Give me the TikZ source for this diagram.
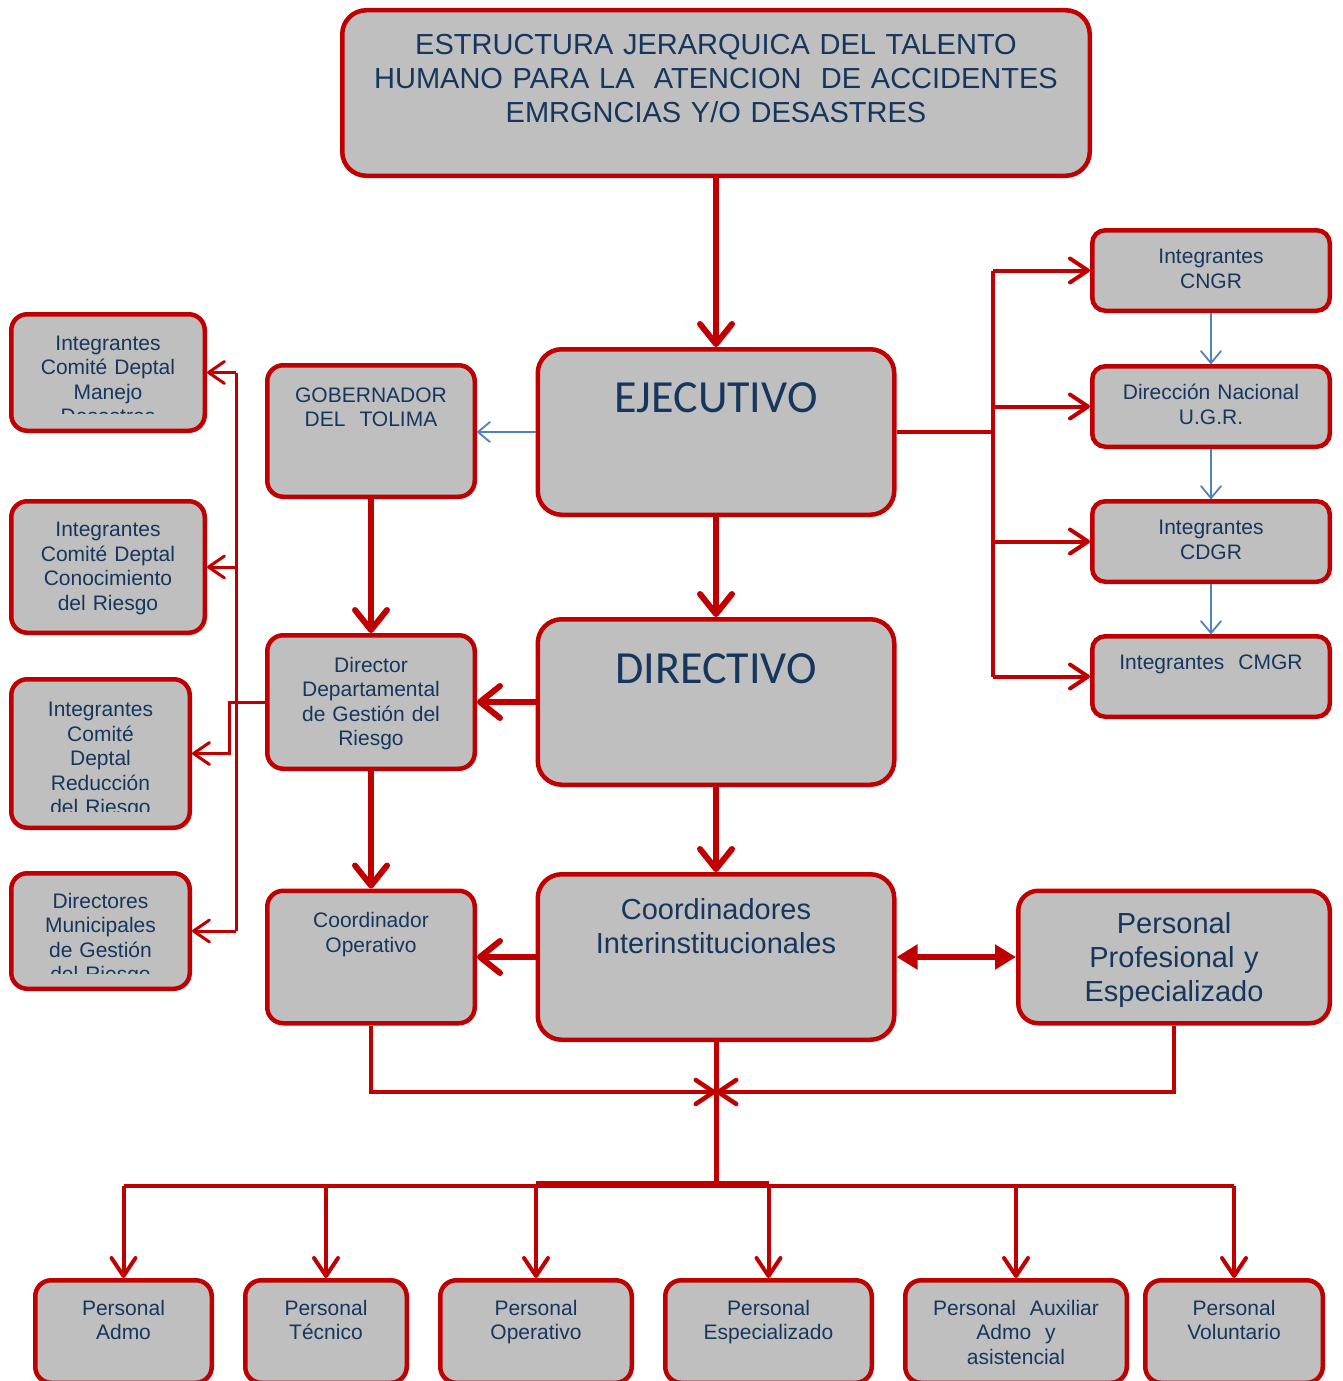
\documentclass[tikz,border=0pt]{standalone}
\usepackage{fontspec}
\setmainfont{Liberation Sans}
\newfontfamily\calib{Carlito}
\usetikzlibrary{arrows.meta}
\definecolor{rojo}{RGB}{192,0,0}
\definecolor{gris}{RGB}{191,191,191}
\definecolor{azul}{RGB}{79,129,189}
\definecolor{tinta}{RGB}{23,54,93}

\begin{document}
\begin{tikzpicture}[x=1pt,y=-1pt,
  caja/.style={draw=rojo,fill=gris,line width=4.5pt,rounded corners=24pt,
    text=tinta,align=center,inner sep=0pt},
  grande/.style={caja,font=\fontsize{46}{55}\selectfont\calib},
  media/.style={caja,font=\fontsize{29}{34}\selectfont},
  chica/.style={caja,rounded corners=16pt,font=\fontsize{21}{24.5}\selectfont},
  gruesa/.style={draw=rojo,line width=6pt,-{Straight Barb[length=20pt,width=32pt,round]}},
  linea/.style={draw=rojo,line width=4pt},
  flecha/.style={linea,-{Straight Barb[length=18pt,width=24pt,round]}},
  fina/.style={draw=rojo,line width=3pt,-{Straight Barb[length=16pt,width=22pt,round]}},
  azulf/.style={draw=azul,line width=1.8pt,-{Straight Barb[length=12pt,width=20pt,round]}}]

\useasboundingbox (0,0) rectangle (1342,1381);

%columna central
\node[media,text width=747.5pt,text height=44.75pt,text depth=120.75pt] (titulo) at (716,93)
  {ESTRUCTURA JERARQUICA DEL TALENTO\\HUMANO PARA LA\ \ ATENCION\ \ DE ACCIDENTES\\EMRGNCIAS Y/O DESASTRES};
\node[grande,text width=356.5pt,text height=62.75pt,text depth=102.75pt] (ejec) at (716,432) {EJECUTIVO};
\node[grande,text width=356.5pt,text height=63.75pt,text depth=101.75pt] (direc) at (716,702) {DIRECTIVO};
\node[media,text width=356.5pt,text height=44.75pt,text depth=120.75pt] (coordi) at (716,957)
  {Coordinadores\\Interinstitucionales};
\node[media,rounded corners=20pt,text width=311.5pt,text height=42.75pt,text depth=89.75pt] (profes) at (1174,957)
  {Personal\\Profesional y\\Especializado};

%columna izquierda
\node[chica,text width=207.5pt,text height=36.75pt,text depth=94.75pt] (gober) at (371,431) {GOBERNADOR\\DEL\ \ TOLIMA};
\node[chica,text width=207.5pt,text height=36.75pt,text depth=96.75pt] (director) at (371,702)
  {Director\\Departamental\\de Gestión del\\Riesgo};
\node[chica,text width=207.5pt,text height=36.75pt,text depth=95.75pt] (coordop) at (371,957) {Coordinador\\Operativo};

%comites (texto cortado abajo)
\node[chica,text width=193.5pt,text height=35.75pt,text depth=80.75pt,
  path picture={\clip (path picture bounding box.north west) rectangle ([yshift=17.75pt]path picture bounding box.south east);
    \node[chica,draw=none,fill=none,text width=193.5pt,anchor=base] at ([yshift=-35.75pt]path picture bounding box.north)
      {Integrantes\\Comité Deptal\\Manejo\\Desastres};}]
  (manejo) at (108,372.5) {};
\node[chica,text width=193.5pt,text height=35.5pt,text depth=96pt] (conoc) at (108,567)
  {Integrantes\\Comité Deptal\\Conocimiento\\del Riesgo};
\node[chica,text width=178.5pt,text height=37.5pt,text depth=111pt,
  path picture={\clip (path picture bounding box.north west) rectangle ([yshift=16.25pt]path picture bounding box.south east);
    \node[chica,draw=none,fill=none,text width=178.5pt,anchor=base] at ([yshift=-37.45pt]path picture bounding box.north)
      {Integrantes\\Comité\\Deptal\\Reducción\\del Riesgo};}]
  (reduc) at (100.5,753.5) {};
\node[chica,text width=178.5pt,text height=35pt,text depth=80.5pt,
  path picture={\clip (path picture bounding box.north west) rectangle ([yshift=15.45pt]path picture bounding box.south east);
    \node[chica,draw=none,fill=none,text width=178.5pt,anchor=base] at ([yshift=-35.05pt]path picture bounding box.north)
      {Directores\\Municipales\\de Gestión\\del Riesgo};}]
  (munic) at (100.5,931) {};

%columna derecha
\node[chica,rounded corners=13pt,text width=237.5pt,text height=33.5pt,text depth=47pt] (cngr) at (1211,270.5) {Integrantes\\CNGR};
\node[chica,rounded corners=13pt,text width=237.5pt,text height=33.5pt,text depth=47pt] (ugr) at (1211,406.5) {Dirección Nacional\\U.G.R.};
\node[chica,rounded corners=13pt,text width=237.5pt,text height=33.5pt,text depth=47pt] (cdgr) at (1211,541.5) {Integrantes\\CDGR};
\node[chica,rounded corners=13pt,text width=237.5pt,text height=33.5pt,text depth=47pt] (cmgr) at (1211,676.5) {Integrantes\ \ CMGR};

%personal
\node[chica,text width=176.5pt,text height=34.75pt,text depth=67.75pt] (admo) at (123.5,1331.5) {Personal\\Admo};
\node[chica,text width=161.5pt,text height=34.75pt,text depth=67.75pt] (tecnico) at (326,1331.5) {Personal\\Técnico};
\node[chica,text width=191.5pt,text height=34.75pt,text depth=67.75pt] (operativo) at (536,1331.5) {Personal\\Operativo};
\node[chica,text width=206.5pt,text height=34.75pt,text depth=67.75pt] (especial) at (768.5,1331.5) {Personal\\Especializado};
\node[chica,text width=221.5pt,text height=34.75pt,text depth=67.75pt] (auxiliar) at (1016,1331.5) {Personal\ \ Auxiliar\\Admo\ \ y\\asistencial};
\node[chica,text width=177.5pt,text height=34.75pt,text depth=67.75pt] (volunt) at (1234,1331.5) {Personal\\Voluntario};

\coordinate (troncoD) at (993,432);
\coordinate (troncoI) at (236,702);
\coordinate (cruce) at (716,1092);
\coordinate (bus) at (716,1186);

%flechas principales
\draw[gruesa] (titulo) -- (ejec);
\draw[gruesa] (ejec) -- (direc);
\draw[gruesa] (direc) -- (coordi);
\draw[gruesa] (gober) -- (director);
\draw[gruesa] (director) -- (coordop);
\draw[gruesa] (direc) -- (director);
\draw[gruesa] (coordi) -- (coordop);
\draw[draw=rojo,line width=6pt,{Triangle[length=21pt,width=24pt]}-{Triangle[length=21pt,width=24pt]}] (coordi) -- (profes);
\draw[azulf] (ejec.west) -- (ejec.west -| gober.east);

%derecha
\draw[linea] (ejec.east) -- (troncoD);
\draw[linea] (troncoD |- cngr) -- (troncoD |- cmgr);
\foreach \n in {cngr,ugr,cdgr,cmgr}
  \draw[flecha] (troncoD |- \n) -- (\n);
\draw[azulf] (cngr) -- (ugr);
\draw[azulf] (ugr) -- (cdgr);
\draw[azulf] (cdgr) -- (cmgr);

%izquierda
\draw[draw=rojo,line width=3pt] (troncoI |- manejo) -- (troncoI |- munic);
\foreach \n in {manejo,conoc,munic}
  \draw[fina] (troncoI |- \n) -- (\n);
\draw[fina] (director.west) -- (229,702) |- (reduc.east);

%abajo
\draw[linea,line width=4.5pt,-{Straight Barb[length=18pt,width=24pt,round]}] (coordop.south) |- (cruce);
\draw[linea,line width=4.5pt,-{Straight Barb[length=18pt,width=24pt,round]}] (profes.south) |- (cruce);
\draw[linea,line width=5pt] (coordi.south) -- (bus);
\draw[linea] (bus -| admo) -- (bus -| volunt);
\draw[draw=rojo,line width=7pt] ([yshift=2pt]bus -| operativo) -- ([yshift=2pt]bus -| especial);
\foreach \n in {admo,tecnico,operativo,especial,auxiliar,volunt}
  \draw[flecha] (bus -| \n) -- (\n);

\end{tikzpicture}
\end{document}
